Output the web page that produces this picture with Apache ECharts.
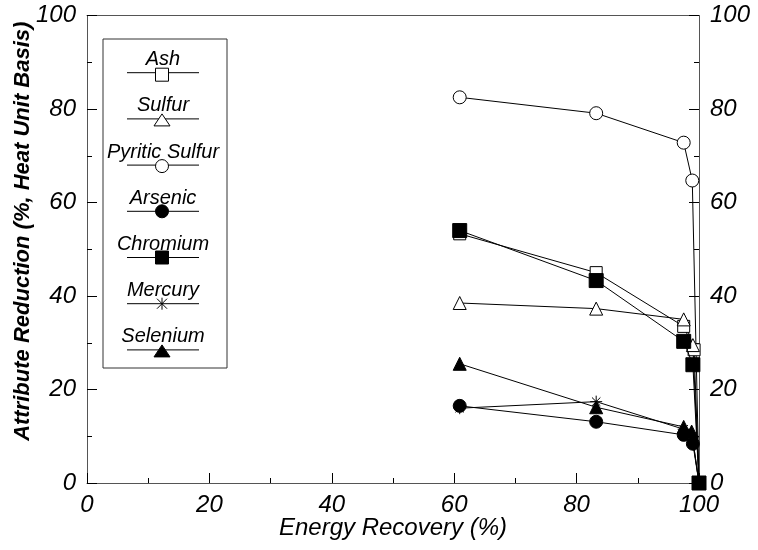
<!DOCTYPE html>
<html><head><meta charset="utf-8">
<script src="https://cdn.jsdelivr.net/npm/echarts@6/dist/echarts.min.js"></script>
<style>html,body{margin:0;padding:0;background:#fff}#c{width:758px;height:550px}</style>
</head><body><div id="c"></div>
<script>
// ---- data ----
const seriesNames = ['Ash','Sulfur','Pyritic Sulfur','Arsenic','Chromium','Mercury','Selenium'];
const ashX = [60.9, 83.2, 97.5, 99.2, 100];
const ashY = [53.3, 45.0, 33.5, 28.5, 0];
const sulfurX = [60.9, 83.2, 97.5, 99.0, 100];
const sulfurY = [38.5, 37.3, 35.0, 29.5, 0];
const pyriticX = [60.9, 83.2, 97.5, 98.9, 100];
const pyriticY = [82.5, 79.1, 72.8, 64.7, 0];
const arsenicX = [60.9, 83.2, 97.5, 99.0, 100];
const arsenicY = [16.5, 13.1, 10.3, 8.4, 0];
const chromiumX = [60.9, 83.2, 97.5, 99.0, 100];
const chromiumY = [54.0, 43.3, 30.3, 25.3, 0];
const mercuryX = [60.9, 83.2, 97.5, 98.9, 100];
const mercuryY = [16.0, 17.4, 11.5, 10.0, 0];
const seleniumX = [60.9, 83.2, 97.5, 98.8, 100];
const seleniumY = [25.5, 16.2, 12.0, 11.0, 0];
const xTicks = [0, 20, 40, 60, 80, 100];
const yTicks = [0, 20, 40, 60, 80, 100];

const FONT = 'Liberation Sans, Arial, sans-serif';
const STAR = 'path://M10,0L10,20M0,10L20,10M3,3L17,17M3,17L17,3';
const styles = {
  'Ash': {symbol:'rect', fill:'#fff', size:12},
  'Sulfur': {symbol:'triangle', fill:'#fff', size:13},
  'Pyritic Sulfur': {symbol:'circle', fill:'#fff', size:13},
  'Arsenic': {symbol:'circle', fill:'#000', size:13},
  'Chromium': {symbol:'rect', fill:'#000', size:14},
  'Mercury': {symbol:STAR, fill:'#000', size:12},
  'Selenium': {symbol:'triangle', fill:'#000', size:13}
};
const dataMap = {
  'Ash':[ashX,ashY],'Sulfur':[sulfurX,sulfurY],'Pyritic Sulfur':[pyriticX,pyriticY],
  'Arsenic':[arsenicX,arsenicY],'Chromium':[chromiumX,chromiumY],
  'Mercury':[mercuryX,mercuryY],'Selenium':[seleniumX,seleniumY]
};
const zip = (xs, ys) => xs.map((x,i)=>[x, ys[i]]);

const chart = echarts.init(document.getElementById('c'), null, {renderer:'canvas'});

const axisLabelStyle = {fontFamily:FONT, fontStyle:'italic', fontSize:24, color:'#000'};
const series = seriesNames.map(n => ({
  name:n, type:'line', data: zip(dataMap[n][0], dataMap[n][1]),
  symbol: styles[n].symbol, symbolSize: styles[n].size, showAllSymbol:true,
  clip:false, z: (n==='Chromium')?5:3,
  lineStyle:{color:'#000', width:1},
  itemStyle:{color:styles[n].fill, borderColor:'#000', borderWidth:1, opacity:1},
  emphasis:{disabled:true}, animation:false
}));

// legend built from graphics
const lg = [];
lg.push({type:'rect', shape:{x:103, y:39, width:124, height:329}, style:{fill:'none', stroke:'#333', lineWidth:1}, silent:true});
seriesNames.forEach((n,i) => {
  const ly = 72.7 + i*46.2;
  lg.push({type:'text', x:163, y:ly-13, style:{text:n, fontFamily:FONT, fontStyle:'italic', fontSize:20, fill:'#000', textAlign:'center', textVerticalAlign:'middle'}, silent:true});
  lg.push({type:'line', shape:{x1:127, y1:ly, x2:199, y2:ly}, style:{stroke:'#000', lineWidth:1}, silent:true});
  const cx = 162, s = styles[n];
  const st = {fill:s.fill, stroke:'#000', lineWidth:1};
  if (n==='Ash' || n==='Chromium') {
    const h = 13; lg.push({type:'rect', shape:{x:cx-h/2, y:ly-h/2+(n==='Ash'?2:0), width:h, height:h}, style:st, z:10, silent:true});
  } else if (n==='Sulfur' || n==='Selenium') {
    lg.push({type:'polygon', shape:{points:[[cx, ly-5],[cx-8, ly+7],[cx+8, ly+7]]}, style:st, z:10, silent:true});
  } else if (n==='Pyritic Sulfur' || n==='Arsenic') {
    lg.push({type:'circle', shape:{cx:cx, cy:ly+(n==='Pyritic Sulfur'?1:0), r:6.5}, style:st, z:10, silent:true});
  } else {
    lg.push({type:'polyline', shape:{points:[[cx-5,ly-5],[cx+5,ly+5]]}, style:{stroke:'#000', lineWidth:1}, silent:true});
    lg.push({type:'polyline', shape:{points:[[cx-5,ly+5],[cx+5,ly-5]]}, style:{stroke:'#000', lineWidth:1}, silent:true});
    lg.push({type:'polyline', shape:{points:[[cx,ly-6],[cx,ly+6]]}, style:{stroke:'#000', lineWidth:1}, silent:true});
  }
});

const axCommon = {
  min:0, max:100, interval:20,
  axisLine:{show:true, onZero:false, lineStyle:{color:'#555', width:1}},
  axisTick:{show:true, inside:true, length:10, lineStyle:{color:'#000', width:1}},
  minorTick:{show:true, splitNumber:2, length:5, lineStyle:{color:'#000', width:1}},
  splitLine:{show:false}
};

chart.setOption({
  animation:false,
  backgroundColor:'#fff',
  grid:{left:87, right:59, top:15.5, bottom:67, containLabel:false, outerBoundsMode:'none'},
  xAxis:[
    Object.assign({}, axCommon, {type:'value', position:'bottom',
      axisLabel:Object.assign({}, axisLabelStyle, {margin:10, formatter:v=>xTicks.includes(v)?String(v):''}),
      name:'Energy Recovery (%)', nameLocation:'middle', nameGap:33, nameMoveOverlap:false,
      nameTextStyle:{fontFamily:FONT, fontStyle:'italic', fontSize:24, color:'#000'}}),
    Object.assign({}, axCommon, {type:'value', position:'top', axisTick:{show:false}, minorTick:{show:false}, axisLabel:{show:false}})
  ],
  yAxis:[
    Object.assign({}, axCommon, {type:'value', position:'left',
      axisLabel:Object.assign({}, axisLabelStyle, {margin:11, formatter:v=>yTicks.includes(v)?String(v):''}),
      name:'Attribute Reduction (%, Heat Unit Basis)', nameLocation:'middle', nameGap:53, nameRotate:90, nameMoveOverlap:false,
      nameTextStyle:{fontFamily:FONT, fontStyle:'italic', fontWeight:'bold', fontSize:22, color:'#000', padding:[0,0,0,36]}}),
    Object.assign({}, axCommon, {type:'value', position:'right',
      axisLabel:Object.assign({}, axisLabelStyle, {margin:11, formatter:v=>yTicks.includes(v)?String(v):''})})
  ],
  series: series,
  graphic: lg
});
</script></body></html>
